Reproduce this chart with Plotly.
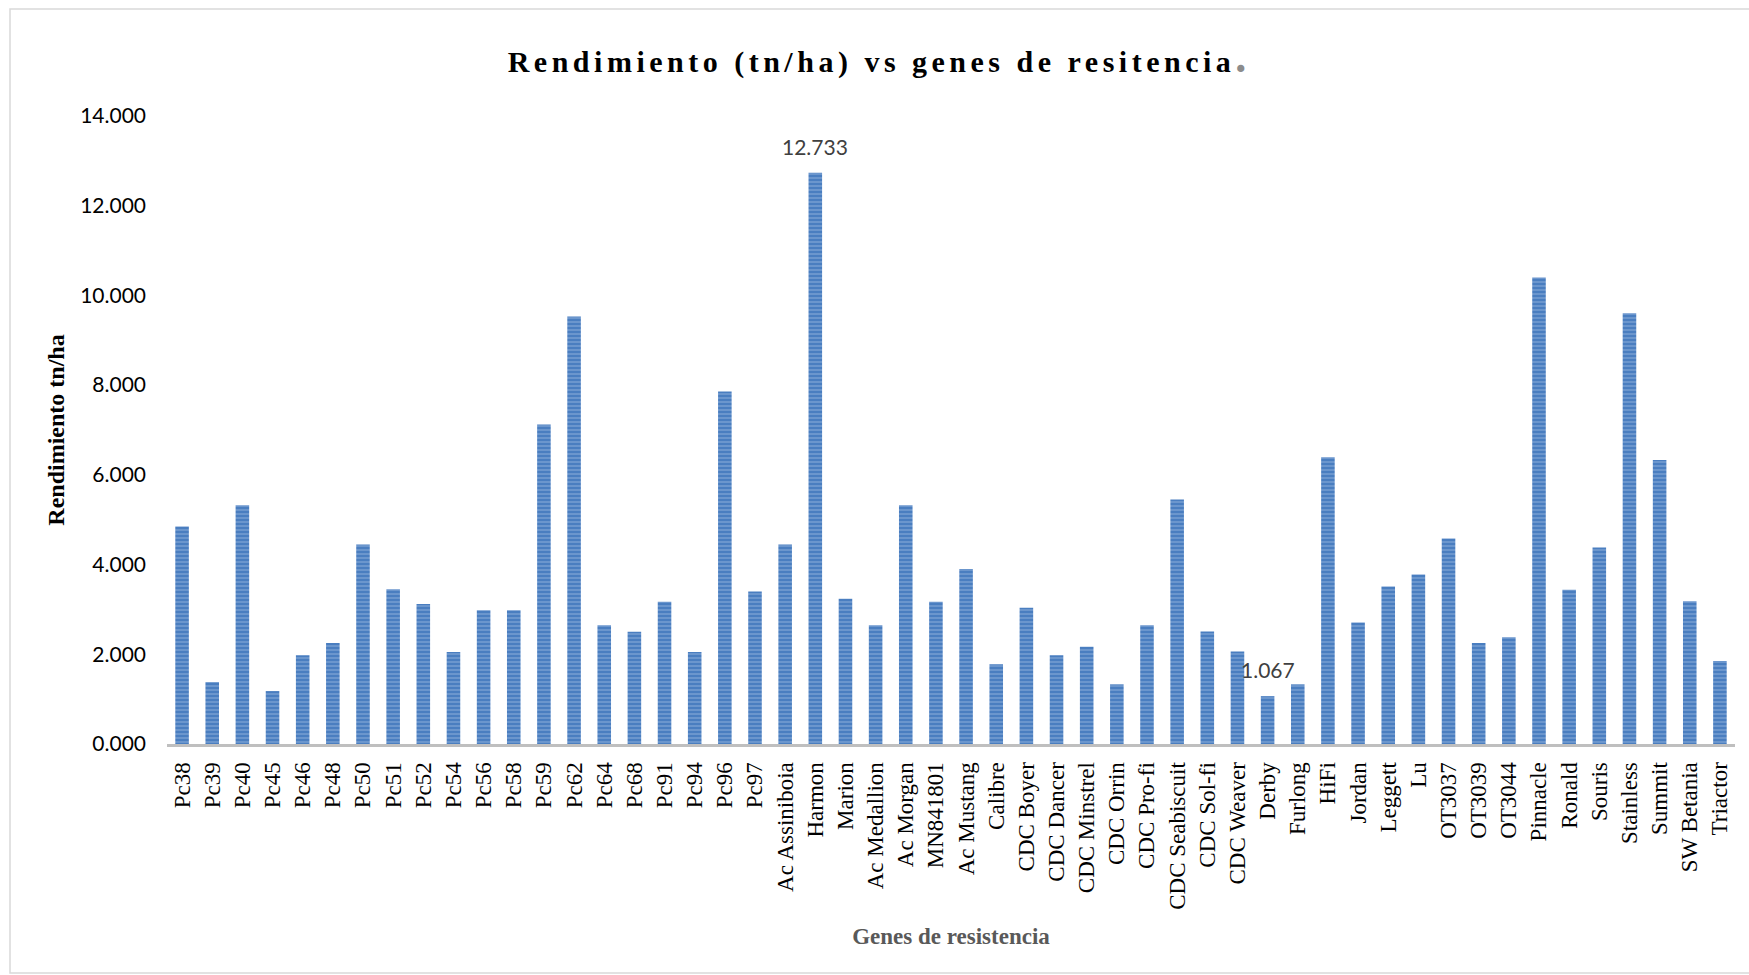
import plotly.graph_objects as go

categories = [
    "Pc38", "Pc39", "Pc40", "Pc45", "Pc46", "Pc48", "Pc50", "Pc51", "Pc52", "Pc54",
    "Pc56", "Pc58", "Pc59", "Pc62", "Pc64", "Pc68", "Pc91", "Pc94", "Pc96", "Pc97",
    "Ac Assiniboia", "Harmon", "Marion", "Ac Medallion", "Ac Morgan", "MN841801",
    "Ac Mustang", "Calibre", "CDC Boyer", "CDC Dancer", "CDC Minstrel", "CDC Orrin",
    "CDC Pro-fi", "CDC Seabiscuit", "CDC Sol-fi", "CDC Weaver", "Derby", "Furlong",
    "HiFi", "Jordan", "Leggett", "Lu", "OT3037", "OT3039", "OT3044", "Pinnacle",
    "Ronald", "Souris", "Stainless", "Summit", "SW Betania", "Triactor",
]
rendimiento = [
    4.85, 1.38, 5.32, 1.18, 1.98, 2.25, 4.45, 3.45, 3.12, 2.05,
    2.98, 2.98, 7.12, 9.53, 2.65, 2.50, 3.17, 2.05, 7.86, 3.40,
    4.45, 12.733, 3.24, 2.65, 5.32, 3.17,
    3.90, 1.78, 3.04, 1.98, 2.17, 1.33,
    2.65, 5.45, 2.51, 2.06, 1.067, 1.33,
    6.39, 2.71, 3.51, 3.78, 4.58, 2.25, 2.38, 10.40,
    3.44, 4.38, 9.60, 6.33, 3.18, 1.85,
]
labeled = ["Harmon", "Derby"]
y_ticks = [0, 2, 4, 6, 8, 10, 12, 14]

W, H = 1749, 975
ML, MR, MT, MB = 167, 14, 116, 231
pw, ph = W - ML - MR, H - MT - MB

fig = go.Figure(go.Bar(
    x=categories,
    y=rendimiento,
    marker=dict(
        color="#4A7EC0",
        line=dict(width=0),
        pattern=dict(shape="-", fgcolor="#A9C3E6", bgcolor="#4A7EC0", size=4, solidity=0.35),
    ),
))

for c, v in zip(categories, rendimiento):
    if c in labeled:
        fig.add_annotation(
            x=c, y=v, text=f"{v:.3f}", showarrow=False,
            yanchor="bottom", yshift=12,
            font=dict(family="Lato", size=21, color="#404040"),
        )

def px_x(p):
    return (p - ML) / pw

def px_y(p):
    return (H - MB - p) / ph

fig.update_layout(
    width=W, height=H,
    margin=dict(l=ML, r=MR, t=MT, b=MB),
    paper_bgcolor="white", plot_bgcolor="white",
    bargap=0.55,
    showlegend=False,
    title=dict(
        text='<b><span style="letter-spacing:4.5px">Rendimiento (tn/ha) vs genes de resitencia</span></b><span style="color:#8c8c8c;font-size:44px"><b>.</b></span>',
        font=dict(family="Liberation Serif", size=30, color="black"),
        x=877 / W, xanchor="center", xref="container",
        y=1 - 61 / H, yanchor="middle", yref="container",
    ),
    xaxis=dict(
        type="category",
        tickangle=-90,
        tickfont=dict(family="Liberation Serif", size=23, color="black"),
        showline=True, linecolor="#BFBFBF", linewidth=3,
        showgrid=False, ticks="", ticklabelstandoff=6,
        title=dict(text="<b>Genes de resistencia</b>",
                   font=dict(family="Liberation Serif", size=23, color="#595959"),
                   standoff=20),
        automargin=False,
    ),
    yaxis=dict(
        range=[0, 14],
        tickvals=y_ticks,
        tickformat=".3f",
        tickfont=dict(family="Lato", size=21, color="black"),
        showgrid=False, zeroline=False, showline=False, ticks="",
        ticklabelstandoff=20,
        title=dict(text="<b>Rendimiento tn/ha</b>",
                   font=dict(family="Liberation Serif", size=24, color="black"),
                   standoff=8),
        automargin=False,
    ),
    shapes=[dict(
        type="rect", xref="paper", yref="paper",
        x0=px_x(10), x1=px_x(W + 20), y0=px_y(H - 2), y1=px_y(9),
        line=dict(color="#D9D9D9", width=1.5), fillcolor="rgba(0,0,0,0)", layer="below",
    )],
)

fig.write_html("out.html")
